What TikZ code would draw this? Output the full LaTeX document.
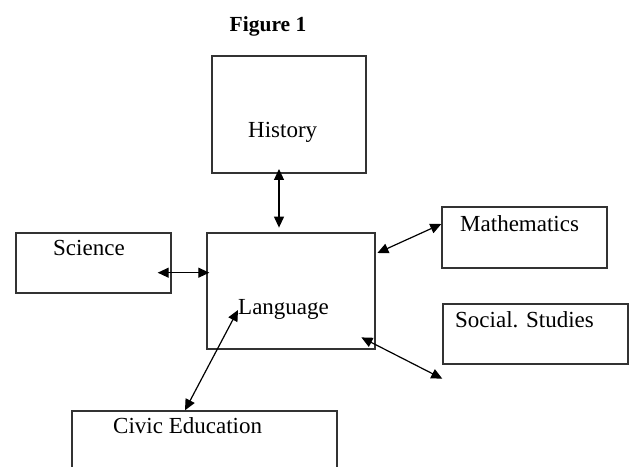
\documentclass[tikz,border=0pt]{standalone}
\usepackage{fontspec}
\setmainfont{Liberation Serif}
\usepackage{xcolor}
\usetikzlibrary{arrows.meta, positioning, calc}
\definecolor{mydark}{HTML}{333333}

\begin{document}
\begin{tikzpicture}[x=1pt, y=1pt,
                box/.style={rectangle, draw=mydark, line width=1.4pt, inner sep=0pt},
                txt/.style={anchor=base west, inner sep=0pt, font=\fontsize{23}{27}\selectfont},
                arrow/.style={{Triangle[length=11pt,width=10pt]}-{Triangle[length=11pt,width=10pt]}, line width=1.2pt}]
                \useasboundingbox (0,0) rectangle (632,466);
                \clip (0,0) rectangle (632,466);
                \node[anchor=base west, inner sep=0pt, font=\fontsize{21.5}{25}\selectfont\bfseries] (title) at (229.5,434.3) {Figure 1};

                \node[box, minimum width=154pt, minimum height=117pt] (hist) at (289,351.5) {};
                \node[box, minimum width=168pt, minimum height=116pt] (lang) at (291,175) {};
                \node[box, minimum width=155pt, minimum height=60pt] (sci) at (93.5,203) {};
                \node[box, minimum width=165pt, minimum height=61pt] (math) at (524.5,228.5) {};
                \node[box, minimum width=185pt, minimum height=60pt] (soc) at (535.5,132) {};
                \node[box, minimum width=265pt, minimum height=79pt] (civ) at (204.5,15.5) {};

                \node[txt] (histtxt) at (248,328.7) {History};
                \node[txt] (langtxt) at (238,151) {Language};
                \node[txt] (scitxt) at (53,210) {Science};
                \node[txt] (mathtxt) at (460,234.3) {Mathematics};
                \node[txt] (soctxt) at (455,138.3) {Social. Studies};
                \node[txt] (civtxt) at (113,32) {Civic Education};

                \draw[arrow] ([shift={(-10,4.7)}]hist.south) -- ([shift={(-12,4.7)}]lang.north);
                \draw[arrow] ([shift={(-14,-9.7)}]sci.east) -- ([shift={(3,18.3)}]lang.west);
                \draw[arrow] ([shift={(1.7,38)}]lang.east) -- ([shift={(0,13.5)}]math.west);
                \draw[arrow] ([shift={(-14.3,12.3)}]lang.south east) -- ([shift={(0,-14)}]soc.south west);
                \draw[arrow] ([shift={(-19.5,0)}]civ.north) -- ([shift={(0,5)}]langtxt.base west);
            \end{tikzpicture}
\end{document}
